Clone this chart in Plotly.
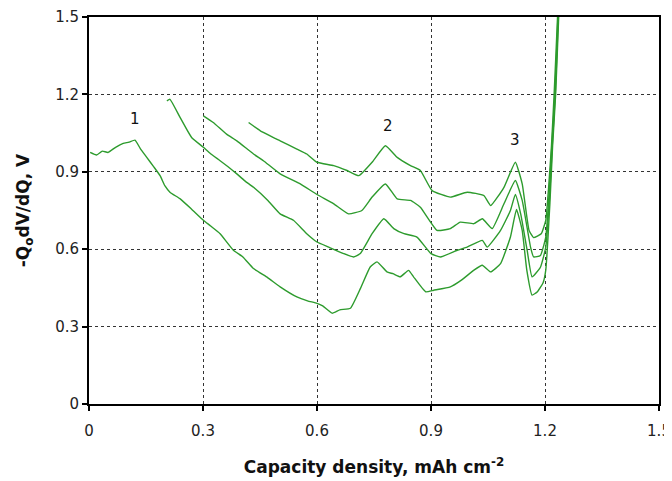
import plotly.graph_objects as go

# Curve 1 (bottom), 2, 3, 4 (top)
x_a = [0.003, 0.02, 0.035, 0.05, 0.07, 0.09, 0.105, 0.121, 0.135, 0.152, 0.17, 0.187, 0.2, 0.213, 0.24, 0.27,
       0.301, 0.32, 0.345, 0.38, 0.405, 0.433, 0.47, 0.503, 0.547, 0.575, 0.6, 0.615, 0.64, 0.66, 0.688,
       0.715, 0.74, 0.758, 0.784, 0.80, 0.819, 0.841, 0.854, 0.886, 0.907, 0.951, 0.98, 1.013, 1.035, 1.057,
       1.083, 1.109, 1.125, 1.14, 1.152, 1.166, 1.18, 1.195, 1.202, 1.213, 1.220, 1.228, 1.236, 1.239]
y_a = [0.975, 0.965, 0.98, 0.975, 0.995, 1.01, 1.015, 1.023, 0.99, 0.956, 0.92, 0.885, 0.845, 0.821, 0.795, 0.755,
       0.712, 0.69, 0.66, 0.596, 0.57, 0.525, 0.49, 0.454, 0.415, 0.40, 0.39, 0.38, 0.352, 0.365, 0.371,
       0.45, 0.531, 0.551, 0.512, 0.505, 0.493, 0.518, 0.493, 0.435, 0.441, 0.454, 0.48, 0.519, 0.538, 0.512,
       0.544, 0.647, 0.754, 0.673, 0.52, 0.422, 0.435, 0.47, 0.519, 0.78, 1.0, 1.2, 1.5, 1.6]

x_b = [0.205, 0.213, 0.24, 0.27, 0.301, 0.32, 0.345, 0.37, 0.389, 0.41, 0.433, 0.47, 0.503, 0.538, 0.573,
       0.6, 0.631, 0.67, 0.696, 0.714, 0.745, 0.776, 0.802, 0.829, 0.863, 0.9, 0.925, 0.969, 0.995, 1.035,
       1.048, 1.083, 1.109, 1.122, 1.136, 1.153, 1.166, 1.188, 1.202, 1.212, 1.219, 1.227, 1.235, 1.238]
y_b = [1.175, 1.181, 1.11, 1.033, 0.995, 0.97, 0.943, 0.915, 0.892, 0.865, 0.84, 0.79, 0.737, 0.712, 0.66,
       0.628, 0.608, 0.583, 0.57, 0.583, 0.66, 0.718, 0.68, 0.66, 0.647, 0.583, 0.57, 0.596, 0.608, 0.634,
       0.608, 0.673, 0.75, 0.812, 0.737, 0.596, 0.493, 0.53, 0.608, 0.80, 1.0, 1.2, 1.5, 1.6]

x_c = [0.301, 0.327, 0.362, 0.389, 0.433, 0.459, 0.503, 0.556, 0.6, 0.644, 0.683, 0.718, 0.745, 0.78,
       0.811, 0.846, 0.872, 0.916, 0.951, 0.977, 1.013, 1.035, 1.061, 1.092, 1.122, 1.14, 1.162, 1.17,
       1.188, 1.202, 1.211, 1.218, 1.226, 1.234, 1.237]
y_c = [1.117, 1.091, 1.046, 1.02, 0.969, 0.943, 0.892, 0.853, 0.812, 0.776, 0.737, 0.75, 0.802, 0.853,
       0.795, 0.789, 0.763, 0.673, 0.68, 0.705, 0.699, 0.718, 0.68, 0.776, 0.866, 0.789, 0.608, 0.57,
       0.576, 0.647, 0.82, 1.0, 1.2, 1.5, 1.6]

x_d = [0.42, 0.451, 0.503, 0.547, 0.573, 0.6, 0.644, 0.679, 0.71, 0.745, 0.78, 0.811, 0.846, 0.872,
       0.903, 0.951, 0.995, 1.039, 1.057, 1.092, 1.122, 1.14, 1.158, 1.17, 1.19, 1.202, 1.210, 1.217,
       1.224, 1.233, 1.236]
y_d = [1.091, 1.059, 1.02, 0.988, 0.969, 0.937, 0.924, 0.905, 0.885, 0.937, 1.001, 0.956, 0.924, 0.905,
       0.827, 0.802, 0.821, 0.808, 0.769, 0.84, 0.937, 0.853, 0.673, 0.645, 0.66, 0.712, 0.85, 1.0,
       1.2, 1.5, 1.6]

tick_vals = [0, 0.3, 0.6, 0.9, 1.2, 1.5]
tick_text = ["0", "0.3", "0.6", "0.9", "1.2", "1.5"]

peak_labels = ["1", "2", "3"]
peak_x = [0.121, 0.786, 1.122]
peak_y = [1.105, 1.078, 1.023]

GREEN = "rgb(45,155,45)"
FONT = "DejaVu Sans, Liberation Sans, Arial"
fig = go.Figure()
for xs, ys in [(x_a, y_a), (x_b, y_b), (x_c, y_c), (x_d, y_d)]:
    fig.add_trace(go.Scatter(x=xs, y=ys, mode="lines",
                             line=dict(color=GREEN, width=1.4, shape="spline", smoothing=0.4),
                             showlegend=False, hoverinfo="skip"))

for t, px, py in zip(peak_labels, peak_x, peak_y):
    fig.add_annotation(x=px, y=py, text=t, showarrow=False,
                       font=dict(family=FONT, size=15, color="#111"))

axis_common = dict(
    showline=True, linecolor="black", linewidth=2, mirror=True,
    ticks="outside", ticklen=5, tickwidth=1.5, tickcolor="black",
    showgrid=True, gridcolor="#333", gridwidth=1, griddash="dot",
    zeroline=False, automargin=False,
    tickfont=dict(family=FONT, size=15, color="#222"),
)

fig.update_xaxes(range=[0, 1.5], tickvals=tick_vals, ticktext=tick_text, ticklabelstandoff=7,
                 title=dict(text="<b>Capacity density, mAh cm<sup>-2</sup></b>", standoff=22,
                            font=dict(family=FONT, size=17, color="#111")),
                 **axis_common)
fig.update_yaxes(range=[0, 1.5], tickvals=tick_vals, ticktext=tick_text,
                 title=dict(text="<b>-Q<sub>o</sub>dV/dQ, V</b>", standoff=21,
                            font=dict(family=FONT, size=17, color="#111")),
                 **axis_common)

# the page body has an 8px default margin; size the figure so the plot area lands where the reference has it
fig.update_layout(width=664, height=473, margin=dict(l=81, r=13, t=9, b=77),
                  paper_bgcolor="white", plot_bgcolor="white")
fig.write_html("out.html")
